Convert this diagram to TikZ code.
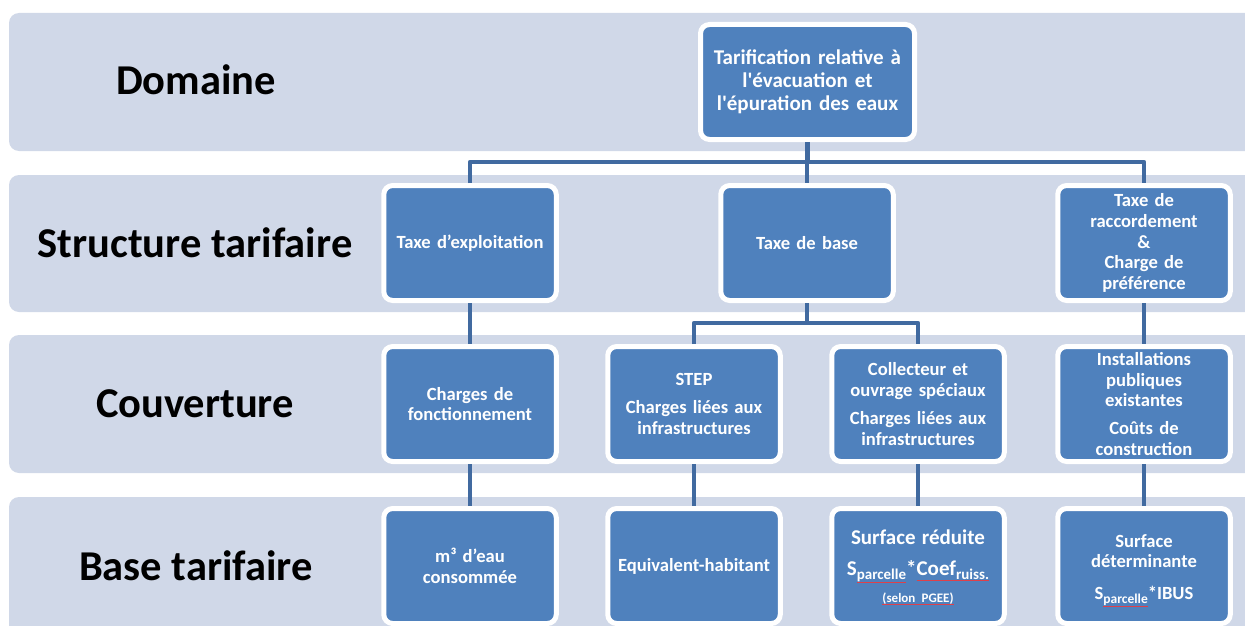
\documentclass[tikz,border=0pt]{standalone}
\usepackage{fontspec}
\newfontfamily\calib{Carlito}
\usetikzlibrary{positioning}

\definecolor{bandfill}{HTML}{D0D8E8}
\definecolor{boxfill}{HTML}{4F81BD}
\definecolor{linkblue}{RGB}{65,106,160}
\definecolor{spellred}{RGB}{222,64,74}

% subscript in the box text
\newcommand\lowsub[2][15]{\raisebox{-4pt}{\fontsize{#1}{#1}\selectfont #2}}
% thin red underline under a word
\newcommand\redul[1]{\setbox0\hbox{#1}\leavevmode
  \rlap{\textcolor{spellred}{\rule[-\dimexpr\dp0+1.2pt\relax]{\wd0}{0.8pt}}}\box0}

\tikzset{
  band/.style={fill=bandfill, draw=none, rounded corners=10pt},
  bandlabel/.style={font=\calib\bfseries\fontsize{42.5}{48}\selectfont, text=black, inner sep=0pt},
  box/.style={rectangle, rounded corners=9pt, fill=boxfill, draw=white, line width=5pt,
    minimum width=172.5pt, minimum height=115pt, text width=167pt, align=center,
    inner sep=0pt, text=white, font=\calib\bfseries\fontsize{18.6}{20.7}\selectfont},
  topbox/.style={box, minimum width=214pt, text width=207pt,
    font=\calib\bfseries\fontsize{21}{23}\selectfont},
  link/.style={draw=linkblue, line width=4.8pt, line join=round}
}

\begin{document}
\begin{tikzpicture}[x=1pt,y=-1pt]
\useasboundingbox (0,0) rectangle (1245,626);
\clip (0,0) rectangle (1245,626);
\fill[white] (0,0) rectangle (1245,626);

% horizontal bands
\path[band] (9,13)  rectangle (1275,151);
\path[band] (9,175) rectangle (1275,312);
\path[band] (9,335) rectangle (1275,473);
\path[band] (9,497) rectangle (1275,660);

% band titles
\node[bandlabel] (lDom) at (196,80)  {Domaine};
\node[bandlabel] (lStr) at (195,243) {Structure tarifaire};
\node[bandlabel] (lCov) at (195,404) {Couverture};
\node[bandlabel] (lBas) at (196,566) {Base tarifaire};

% bus coordinates
\coordinate (busA) at (0,162);
\coordinate (busB) at (0,323);

% boxes
\node[topbox] (top) at (807.5,82) {Tarification relative à\\l'évacuation et\\l'épuration des eaux};

\node[box] (t1) at (470,243)  {Taxe d’exploitation};
\node[box] (t2) at (807,243)  {Taxe de base};
\node[box] (t3) at (1144,243) {Taxe de\\raccordement\\\&\\Charge de\\préférence};

\node[box] (c1) at (470,404)  {Charges de\\fonctionnement};
\node[box] (c2) at (694,404)  {STEP\\[7pt]Charges liées aux\\infrastructures};
\node[box] (c3) at (918,404)  {Collecteur et\\ouvrage spéciaux\\[8pt]Charges liées aux\\infrastructures};
\node[box] (c4) at (1144,404) {Installations\\publiques\\existantes\\[7pt]Coûts de\\construction};

\node[box] (b1) at (470,566)  {m³ d’eau\\consommée};
\node[box] (b2) at (694,566)  {Equivalent-habitant};
\node[box] (b3) at (918,566)  {{\fontsize{21}{24}\selectfont\rule{0pt}{18pt}Surface réduite}\\[10pt]
  {\fontsize{21}{24}\selectfont S\lowsub{\redul{parcelle}}*\redul{Coef\lowsub{ruiss.}}}\\[6pt]
  {\fontsize{13}{15}\selectfont\redul{(selon PGEE)}}};
\node[box] (b4) at (1144,566) {\rule{0pt}{22pt}Surface\\déterminante\\[11pt]S\lowsub[13.5]{\redul{parcelle}}*IBUS};

% connectors
\draw[link] (top.south) -- (top.south |- busA);
\draw[link] (t1.north) -- (t1.north |- busA) -- (t3.north |- busA) -- (t3.north);
\draw[link] (t2.north |- busA) -- (t2.north);

\draw[link] (t2.south) -- (t2.south |- busB);
\draw[link] (c2.north) -- (c2.north |- busB) -- (c3.north |- busB) -- (c3.north);

\draw[link] (t1.south) -- (c1.north);
\draw[link] (t3.south) -- (c4.north);
\draw[link] (c1.south) -- (b1.north);
\draw[link] (c2.south) -- (b2.north);
\draw[link] (c3.south) -- (b3.north);
\draw[link] (c4.south) -- (b4.north);
\end{tikzpicture}
\end{document}
